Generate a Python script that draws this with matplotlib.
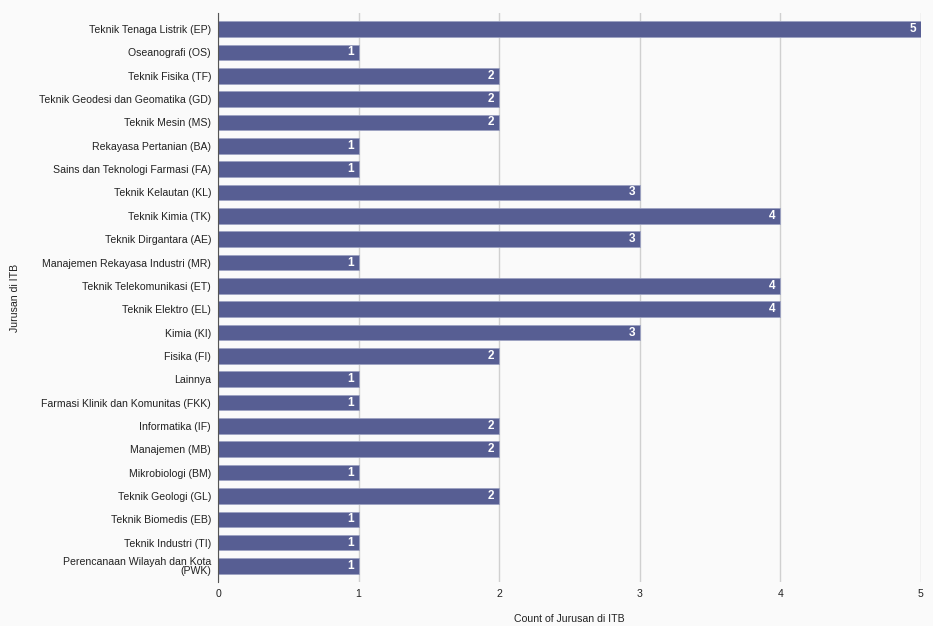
import matplotlib
matplotlib.use("Agg")
import matplotlib.pyplot as plt
import numpy as np

jurusan = [
    "Teknik Tenaga Listrik (EP)",
    "Oseanografi (OS)",
    "Teknik Fisika (TF)",
    "Teknik Geodesi dan Geomatika (GD)",
    "Teknik Mesin (MS)",
    "Rekayasa Pertanian (BA)",
    "Sains dan Teknologi Farmasi (FA)",
    "Teknik Kelautan (KL)",
    "Teknik Kimia (TK)",
    "Teknik Dirgantara (AE)",
    "Manajemen Rekayasa Industri (MR)",
    "Teknik Telekomunikasi (ET)",
    "Teknik Elektro (EL)",
    "Kimia (KI)",
    "Fisika (FI)",
    "Lainnya",
    "Farmasi Klinik dan Komunitas (FKK)",
    "Informatika (IF)",
    "Manajemen (MB)",
    "Mikrobiologi (BM)",
    "Teknik Geologi (GL)",
    "Teknik Biomedis (EB)",
    "Teknik Industri (TI)",
    "Perencanaan Wilayah dan Kota\n(PWK)",
]
counts = [5, 1, 2, 2, 2, 1, 1, 3, 4, 3, 1, 4, 4, 3, 2, 1, 1, 2, 2, 1, 2, 1, 1, 1]
xticks = [0, 1, 2, 3, 4, 5]

plt.rcParams['font.family'] = ['Liberation Sans', 'DejaVu Sans']

bg = '#fafafa'
barcol = '#575e93'
txtcol = '#222222'

fig = plt.figure(figsize=(9.33, 6.26), dpi=100, facecolor=bg)
ax = fig.add_axes([0.2337, 0.0703, 0.7534, 0.9089], facecolor=bg)

y = np.arange(len(jurusan))
ax.barh(y, counts, height=0.66, color=barcol, edgecolor='#9da2c2',
        linewidth=0.6, zorder=3)

for yi, c in zip(y, counts):
    ax.text(c - 0.035, yi, str(c), color='white', fontsize=8.5, fontweight='bold',
            ha='right', va='center', zorder=4)

ax.set_yticks(y)
ax.set_yticklabels(jurusan, fontsize=7.6, color=txtcol, linespacing=0.85)
ax.set_ylim(len(jurusan) - 0.31, -0.69)
ax.set_xlim(0, 5)
ax.set_xticks(xticks)
ax.tick_params(axis='x', labelsize=7.6, colors=txtcol, length=0, pad=5)
ax.tick_params(axis='y', length=0, pad=5)

ax.grid(axis='x', color='#d0d0d0', linewidth=1, zorder=0)
for s in ['top', 'right', 'bottom']:
    ax.spines[s].set_visible(False)
ax.spines['left'].set_color('#555555')
ax.spines['left'].set_zorder(5)

ax.set_xlabel("Count of Jurusan di ITB", fontsize=7.6, color=txtcol)
ax.xaxis.set_label_coords(0.5, -0.056)
ax.set_ylabel("Jurusan di ITB", fontsize=7.6, color=txtcol)
ax.yaxis.set_label_coords(-0.282, 0.5)

fig.savefig("out.png", dpi=100, facecolor=bg)
